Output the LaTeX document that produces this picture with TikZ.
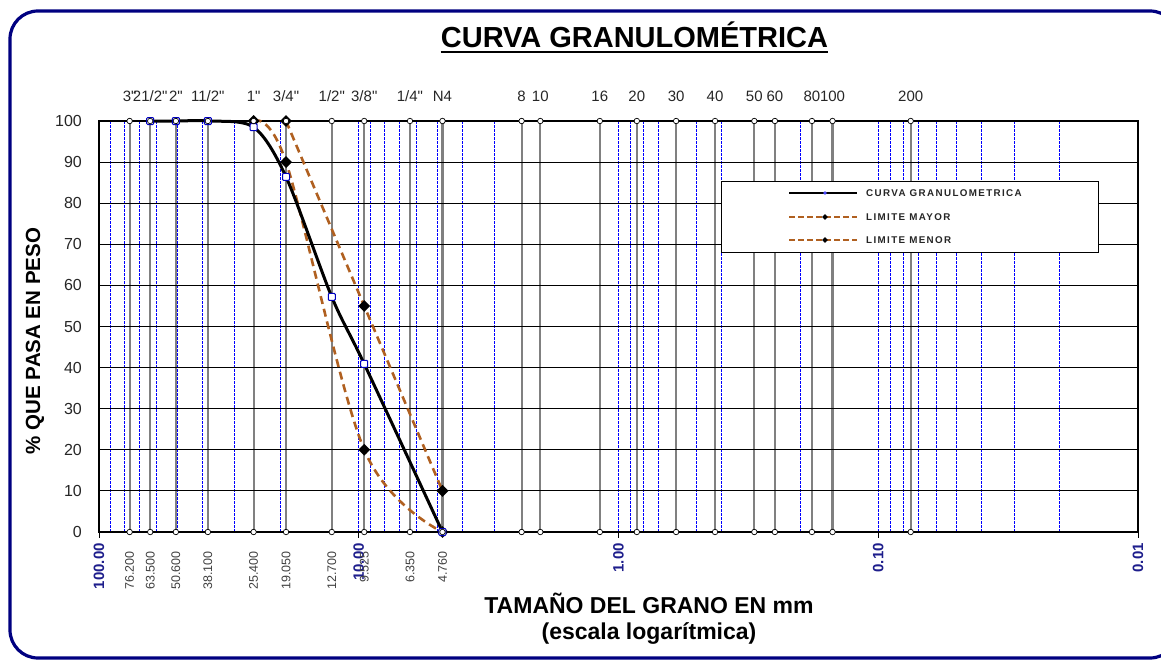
\documentclass[tikz,border=0pt]{standalone}
\usepackage{fontspec}
\setmainfont{Liberation Sans}
\newfontfamily\labfont{Liberation Sans}
\newfontfamily\legfont[LetterSpace=14]{Liberation Sans}
\usetikzlibrary{shapes.geometric}
\definecolor{navyb}{RGB}{0,0,128}
\definecolor{brn}{RGB}{176,96,32}
\definecolor{lblue}{RGB}{30,30,140}
\pgfmathdeclarefunction{gx}{1}{\pgfmathparse{99+259.75*log10(100/#1)}}
\pgfmathdeclarefunction{gy}{1}{\pgfmathparse{532-4.11*#1}}
\tikzset{
  sieveline/.style={draw=black!50, line width=2.1pt},
  minorline/.style={draw=blue, line width=0.8pt, dash pattern=on 2.5pt off 1.5pt},
  hgrid/.style={draw=black, line width=0.9pt},
  curveline/.style={draw=black, line width=3pt, line join=round},
  limline/.style={draw=brn, line width=2.6pt, dash pattern=on 8pt off 5pt},
  cmark/.style={rectangle, rounded corners=1pt, draw=blue!75!black, fill=white, line width=1pt, minimum size=7pt, inner sep=0pt},
  dmd/.style={diamond, fill=black, inner sep=0pt, minimum size=12pt},
  smark/.style={circle, draw=black, fill=white, line width=0.7pt, inner sep=0pt, minimum size=5.5pt},
  toplab/.style={font=\labfont\fontsize{15}{17}\selectfont, text=black!85, inner sep=0pt},
  ylab/.style={font=\fontsize{16}{18}\selectfont, text=black!85, anchor=east, inner sep=0pt},
  botlab/.style={rotate=90, anchor=east, inner sep=0pt, font=\fontsize{12.5}{14}\selectfont, text=black!75},
  declab/.style={rotate=90, anchor=east, inner sep=0pt, font=\bfseries\fontsize{15}{17}\selectfont, text=lblue},
  legtext/.style={anchor=west, inner sep=0pt, font=\legfont\bfseries\fontsize{9.8}{11}\selectfont, text=black!85},
}
\begin{document}
\begin{tikzpicture}[x=1pt,y=-1pt]
\useasboundingbox (0,0) rectangle (1161,661);
\clip (0,0) rectangle (1161,661);
% frame
\draw[navyb, line width=3.2pt, rounded corners=28pt] (10,11) rectangle (1178,658);
% title
\node[anchor=base, inner sep=0pt, font=\bfseries\fontsize{29}{31}\selectfont] (title) at (634.5,47.5) {CURVA GRANULOMÉTRICA};
\coordinate (ul) at (0,52.5);
\draw[line width=2pt] (title.west |- ul) -- (title.east |- ul);
% minor log grid (blue dashed)
\foreach \b in {10,1,0.1,0.01}{
  \foreach \n in {2,...,10}{
    \pgfmathsetmacro\xx{gx(\n*\b)}
    \draw[minorline] (\xx,121) -- (\xx,532);
  }
}
% sieve lines and top labels
\foreach \d/\l [count=\i] in {76.2/{3"},63.5/{21/2"},50.6/{2"},38.1/{11/2"},25.4/{1"},19.05/{3/4"},12.7/{1/2"},9.525/{3/8"},6.35/{1/4"},4.76/{N4},2.36/{8},2.0/{10},1.18/{16},0.85/{20},0.6/{30},0.425/{40},0.3/{50},0.25/{60},0.18/{80},0.15/{100},0.075/{200}}{
  \pgfmathsetmacro\xx{gx(\d)}
  \draw[sieveline] (\xx,121) -- (\xx,532);
  \node[toplab] (t\i) at (\xx,96) {\l};
}
% horizontal grid
\foreach \p in {10,20,...,90}{
  \pgfmathsetmacro\yy{gy(\p)}
  \draw[hgrid] (99,\yy) -- (1138,\yy);
}
% box
\draw[line width=1.2pt] (99,121) rectangle (1138,532);
% decade ticks and labels
\foreach \v/\lab [count=\i] in {100/{100.00},10/{10.00},1/{1.00},0.1/{0.10},0.01/{0.01}}{
  \pgfmathsetmacro\xx{gx(\v)}
  \draw[line width=1pt] (\xx,532) -- (\xx,538);
  \node[declab] (d\i) at (\xx,543) {\lab};
}
% bottom sieve values
\foreach \d/\v [count=\i] in {76.2/76.200,63.5/63.500,50.6/50.600,38.1/38.100,25.4/25.400,19.05/19.050,12.7/12.700,9.525/9.525,6.35/6.350,4.76/4.760}{
  \pgfmathsetmacro\xx{gx(\d)}
  \node[botlab] (b\i) at (\xx,551) {\v};
}
% y labels
\foreach \p [count=\i] in {0,10,...,100}{
  \pgfmathsetmacro\yy{gy(\p)}
  \node[ylab] (y\i) at (82,\yy) {\p};
}
% axis titles
\node[rotate=90, inner sep=0pt, font=\bfseries\fontsize{20.5}{22}\selectfont] (ytitle) at (35,341) {\% QUE PASA EN PESO};
\node[anchor=base, inner sep=0pt, font=\bfseries\fontsize{23}{25}\selectfont] (xt1) at (649,613) {TAMAÑO DEL GRANO EN mm};
\node[anchor=base, inner sep=0pt, font=\bfseries\fontsize{23}{25}\selectfont] (xt2) at (649,639) {(escala logarítmica)};
% limit curves
\draw[limline] plot[smooth, tension=0.55] coordinates {({gx(19.05)},{gy(100)}) ({gx(9.525)},{gy(55)}) ({gx(4.76)},{gy(10)})};
\draw[limline] plot[smooth, tension=0.55] coordinates {({gx(25.4)},{gy(100)}) ({gx(19.05)},{gy(90)}) ({gx(9.525)},{gy(20)}) ({gx(4.76)},{gy(0)})};
% granulometric curve
\draw[curveline] plot[smooth, tension=0.5] coordinates {({gx(63.5)},{gy(100)}) ({gx(50.6)},{gy(100)}) ({gx(38.1)},{gy(100)}) ({gx(25.4)},{gy(98.5)}) ({gx(19.05)},{gy(86.4)}) ({gx(12.7)},{gy(57.2)}) ({gx(9.525)},{gy(40.9)}) ({gx(4.76)},{gy(0)})};
% limit markers
\foreach \d/\p [count=\i] in {25.4/100,19.05/100,19.05/90,9.525/55,9.525/20,4.76/10,4.76/0}{
  \node[dmd] (m\i) at ({gx(\d)},{gy(\p)}) {};
}
% curve markers
\foreach \d/\p [count=\i] in {63.5/100,50.6/100,38.1/100,25.4/98.5,19.05/86.4,12.7/57.2,9.525/40.9,4.76/0}{
  \node[cmark] (c\i) at ({gx(\d)},{gy(\p)}) {};
}
% sieve markers (top and bottom)
\foreach \d [count=\i] in {76.2,63.5,50.6,38.1,25.4,19.05,12.7,9.525,6.35,4.76,2.36,2.0,1.18,0.85,0.6,0.425,0.3,0.25,0.18,0.15,0.075}{
  \node[smark] (st\i) at ({gx(\d)},121) {};
  \node[smark] (sb\i) at ({gx(\d)},532) {};
}
% legend
\node[draw, fill=white, line width=1pt, minimum width=377pt, minimum height=71pt, inner sep=0pt, anchor=north west] (leg) at (721,181) {};
\coordinate (l1a) at (789,193); \coordinate (l1b) at (857,193);
\coordinate (l2a) at (789,217); \coordinate (l2b) at (857,217);
\coordinate (l3a) at (789,240); \coordinate (l3b) at (857,240);
\draw[draw=black, line width=2pt] (l1a) -- (l1b);
\fill[blue!70] (825,193) circle (1.8pt);
\draw[draw=brn, line width=2pt, dash pattern=on 6pt off 3pt] (l2a) -- (l2b);
\node[diamond, fill=black, inner sep=0pt, minimum size=6pt] (lm2) at (825,217) {};
\draw[draw=brn, line width=2pt, dash pattern=on 6pt off 3pt] (l3a) -- (l3b);
\node[diamond, fill=black, inner sep=0pt, minimum size=6pt] (lm3) at (825,240) {};
\node[legtext] (lt1) at (866,193) {CURVA GRANULOMETRICA};
\node[legtext] (lt2) at (866,217) {LIMITE MAYOR};
\node[legtext] (lt3) at (866,240) {LIMITE MENOR};
\end{tikzpicture}
\end{document}
